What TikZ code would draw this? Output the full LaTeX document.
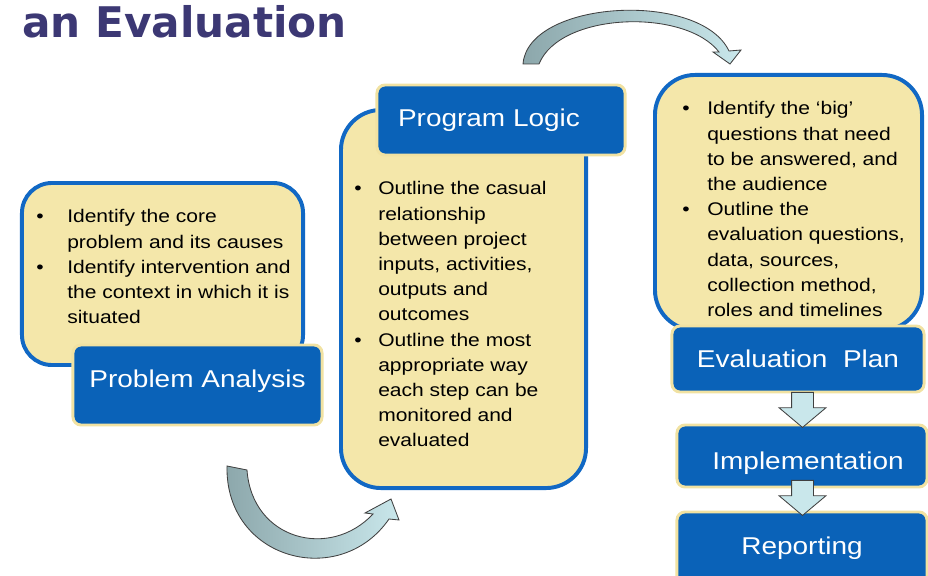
\documentclass[tikz,border=0pt]{standalone}
\usepackage{fontspec}
\setmainfont{Liberation Sans}[FakeStretch=1.15]
\newfontfamily\headfont{DejaVu Sans}
\usepackage{tikz}
\usetikzlibrary{positioning,shapes.arrows}
\definecolor{boxfill}{HTML}{F4E7AA}
\definecolor{boxblue}{HTML}{1168C4}
\definecolor{labelblue}{HTML}{0A62B8}
\definecolor{labelrim}{HTML}{F1E2A2}
\definecolor{titleblue}{HTML}{3C3874}
\definecolor{arrowdark}{HTML}{8CA7AB}
\definecolor{arrowlight}{HTML}{C9E7EB}

\begin{document}
\begin{tikzpicture}[x=0.025cm,y=-0.025cm,
    text box/.style={rounded corners=1cm,draw=boxblue,fill=boxfill,line width=2.8pt},
    label box/.style={rounded corners=0.2cm,draw=labelrim,fill=labelblue,line width=2.1pt,text=white,font=\fontsize{17.3}{21}\selectfont},
    bullets/.style={anchor=base west,inner sep=0pt,font=\fontsize{13}{17.9}\selectfont},
    down arrow/.style={single arrow,draw=black!75,fill=arrowlight,line width=0.6pt,inner xsep=0pt,inner ysep=0.2625cm,rotate=-90,anchor=tail,
        minimum height=0.875cm,single arrow head extend=0.3125cm,single arrow tip angle=100,single arrow head indent=0pt},
    bend arrow/.style={left color=arrowdark,right color=arrowlight,draw=black!75,line width=0.6pt}]
  \useasboundingbox (0,0) rectangle (928,576);

  \node[anchor=base west,inner sep=0pt,font=\headfont\bfseries\fontsize{30}{36}\selectfont,text=titleblue] (title) at (22,38) {an Evaluation};

  % text boxes
  \node[text box,rounded corners=0.75cm,minimum width=7.025cm,minimum height=4.55cm] (prob) at (162.5,274) {};
  \node[text box,minimum width=6.125cm,minimum height=9.45cm] (prog) at (463.5,299) {};
  \node[text box,minimum width=6.675cm,minimum height=6.375cm] (plan) at (788.5,202.5) {};

  % labels
  \node[label box,minimum width=6.225cm,minimum height=2cm] (probLbl) at (197.5,385) {\raisebox{3pt}[\height][\depth]{Problem Analysis}};
  \node[label box,minimum width=6.2cm,minimum height=1.75cm] (progLbl) at (501,120) {Program Logic\kern0.6cm};
  \node[label box,minimum width=6.3cm,minimum height=1.65cm] (planLbl) at (798,359) {Evaluation\ \ Plan};
  \node[label box,minimum width=6.25cm,minimum height=1.55cm] (implLbl) at (802,456) {\hspace{0.3cm}\raisebox{-5pt}[\height][\depth]{Implementation}};
  \node[label box,minimum width=6.25cm,minimum height=1.8cm] (reptLbl) at (802,548) {Reporting};

  % bullet texts
  \node[bullets] (probTxt) at (36,223) {\begin{tabular}[t]{@{}p{0.775cm}@{}l@{}}
    \textbullet & Identify the core\\
                & problem and its causes\\
    \textbullet & Identify intervention and\\
                & the context in which it is\\
                & situated
  \end{tabular}};
  \node[bullets] (progTxt) at (354,195) {\begin{tabular}[t]{@{}p{0.6cm}@{}l@{}}
    \textbullet & Outline the casual\\
                & relationship\\
                & between project\\
                & inputs, activities,\\
                & outputs and\\
                & outcomes\\
    \textbullet & Outline the most\\
                & appropriate way\\
                & each step can be\\
                & monitored and\\
                & evaluated
  \end{tabular}};
  \node[bullets] (planTxt) at (682,115) {\begin{tabular}[t]{@{}p{0.625cm}@{}l@{}}
    \textbullet & Identify the ‘big’\\
                & questions that need\\
                & to be answered, and\\
                & the audience\\
    \textbullet & Outline the\\
                & evaluation questions,\\
                & data, sources,\\
                & collection method,\\
                & roles and timelines
  \end{tabular}};

  % block arrows
  \node[down arrow] (arr1) at (802.5,392) {};
  \node[down arrow] (arr2) at (802.5,480) {};

  \path[bend arrow] (227,466) -- (247,470) .. controls (252,540) and (330,560) .. (373,514)
    -- (365,513) -- (391,499) -- (399,520) -- (389,519)
    .. controls (340,590) and (225,560) .. (227,466) -- cycle;
  \path[bend arrow] (523,64) .. controls (528,0) and (700,-10) .. (729,51)
    -- (741,50) -- (730,64) -- (713,52) -- (719,52)
    .. controls (685,8) and (560,12) .. (539,64) -- cycle;
\end{tikzpicture}
\end{document}
